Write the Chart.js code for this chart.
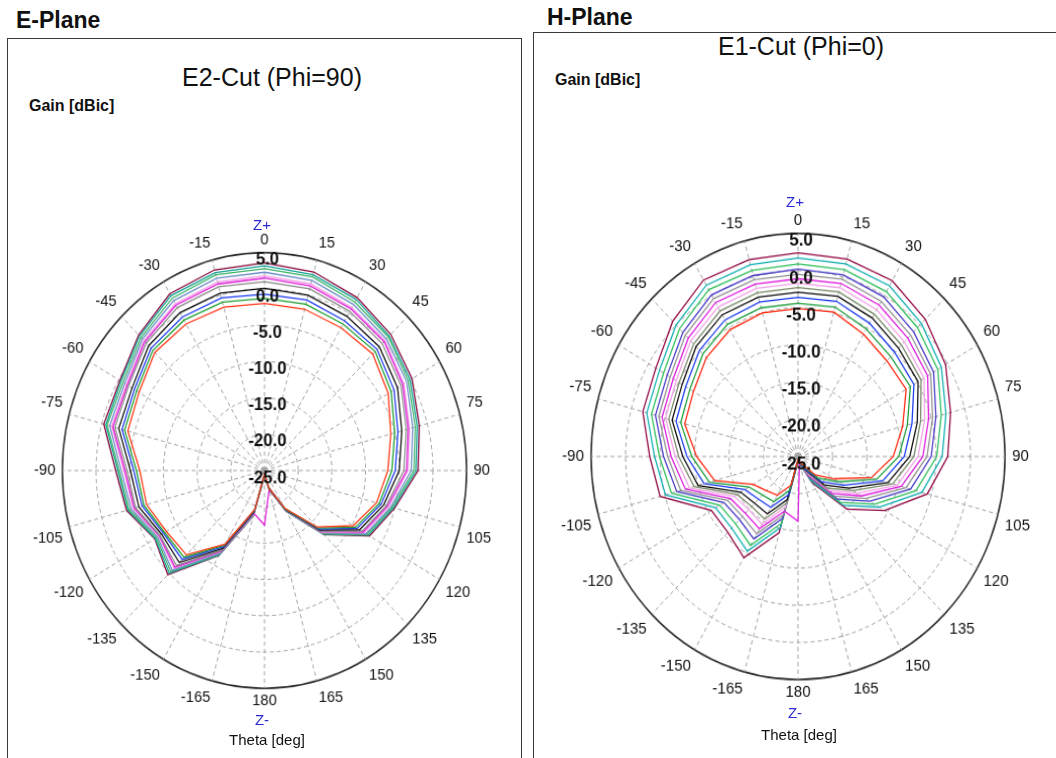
<!DOCTYPE html>
<html><head><meta charset="utf-8">
<script src="https://cdn.jsdelivr.net/npm/chart.js@4.4.1/dist/chart.umd.min.js"></script>
<style>
html,body{margin:0;padding:0;background:#fff;width:1056px;height:758px;overflow:hidden;font-family:"Liberation Sans",Arial,sans-serif;}
.t{position:absolute;white-space:nowrap;line-height:1;color:#111;}
.c{text-align:center;width:240px;}
.box{position:absolute;border:1.5px solid #3a3a3a;box-sizing:border-box;}
canvas{position:absolute;}
.z{color:#2b2bd6;}
</style></head><body>
<div class="box" style="left:7px;top:38px;width:515px;height:740px;"></div>
<div class="box" style="left:533px;top:32px;width:540px;height:740px;"></div>
<div class="t" style="left:16px;top:9px;font-size:23px;font-weight:bold;">E-Plane</div>
<div class="t" style="left:547px;top:6px;font-size:23px;font-weight:bold;">H-Plane</div>
<div class="t c" style="left:152px;top:65px;font-size:25px;">E2-Cut (Phi=90)</div>
<div class="t c" style="left:681px;top:34px;font-size:25px;">E1-Cut (Phi=0)</div>
<div class="t" style="left:29px;top:98px;font-size:16px;font-weight:bold;">Gain [dBic]</div>
<div class="t" style="left:555px;top:72px;font-size:16px;font-weight:bold;">Gain [dBic]</div>
<canvas id="eplane" width="470" height="470" style="width:470px;height:470px;"></canvas>
<canvas id="hplane" width="470" height="470" style="width:470px;height:470px;"></canvas>
<div class="t c z" style="left:142px;top:217px;font-size:15px;">Z+</div>
<div class="t c z" style="left:142px;top:712px;font-size:15px;">Z-</div>
<div class="t c" style="left:147px;top:732px;font-size:15px;">Theta [deg]</div>
<div class="t c z" style="left:675px;top:194px;font-size:15px;">Z+</div>
<div class="t c z" style="left:675px;top:705px;font-size:15px;">Z-</div>
<div class="t c" style="left:679px;top:727px;font-size:15px;">Theta [deg]</div>
<script>
// Theta categories (clockwise from Z+)
const thetaLabels = ['0','15','30','45','60','75','90','105','120','135','150','165','180','-165','-150','-135','-120','-105','-90','-75','-60','-45','-30','-15'];
const radialTicks = [5, 0, -5, -10, -15, -20, -25];

// E-Plane (E2-Cut, Phi=90) gain traces [dBic], inner -> outer
const eGain1  = [-2.0,-2.0,-2.3,-2.3,-3.8,-5.6,-6.7,-7.8,-9.8,-14.0,-19.0,-22.6,-24.5,-19.5,-13.3,-8.6,-8.2,-6.9,-6.5,-4.0,-3.5,-2.0,-1.7,-1.7];
const eGain2  = [-1.3,-1.3,-1.7,-1.8,-3.3,-5.0,-6.1,-7.4,-9.4,-13.8,-18.9,-22.5,-24.4,-19.4,-13.1,-8.1,-7.9,-6.5,-6.0,-3.5,-3.1,-1.6,-1.1,-1.0];
const eGain3  = [-0.7,-0.7,-1.2,-1.4,-2.8,-4.5,-5.6,-7.1,-9.1,-13.6,-18.9,-22.6,-24.4,-19.3,-12.9,-7.7,-7.7,-6.2,-5.6,-3.1,-2.7,-1.2,-0.6,-0.4];
const eGain4  = [0.1,0.0,-0.5,-0.9,-2.2,-3.9,-5.0,-6.7,-8.7,-13.4,-18.8,-22.4,-24.4,-19.1,-12.6,-7.1,-7.4,-5.7,-5.1,-2.6,-2.3,-0.7,0.1,0.3];
const eGain5  = [1.0,0.9,0.3,-0.3,-1.6,-3.2,-4.3,-6.3,-8.3,-13.2,-18.7,-22.5,-24.4,-19.0,-12.3,-6.5,-7.1,-5.2,-4.6,-2.0,-1.7,-0.2,0.9,1.2];
const eGain6  = [1.5,1.3,0.7,0.1,-1.3,-2.9,-3.9,-6.1,-8.1,-13.1,-18.7,-22.3,-17.5,-18.9,-12.2,-6.2,-7.0,-5.0,-4.3,-1.7,-1.5,0.1,1.3,1.6];
const eGain7  = [1.8,1.6,0.9,0.3,-1.1,-2.7,-3.7,-5.9,-7.9,-13.0,-18.7,-22.4,-24.3,-18.8,-12.1,-6.0,-6.9,-4.8,-4.1,-1.5,-1.3,0.3,1.5,1.9];
const eGain8  = [2.3,2.1,1.4,0.6,-0.6,-2.2,-3.2,-5.6,-7.6,-12.9,-18.6,-22.4,-24.3,-18.7,-11.9,-5.6,-6.7,-4.5,-3.7,-1.2,-1.0,0.6,2.0,2.4];
const eGain9  = [2.8,2.6,1.8,1.0,-0.3,-1.8,-2.8,-5.4,-7.4,-12.7,-18.6,-22.5,-24.4,-18.6,-11.8,-5.3,-6.5,-4.2,-3.4,-0.8,-0.7,0.9,2.4,2.9];
const eGain10 = [3.2,2.9,2.2,1.2,0.0,-1.5,-2.5,-5.2,-7.2,-12.6,-18.5,-22.4,-24.3,-18.6,-11.6,-5.0,-6.3,-4.0,-3.2,-0.6,-0.4,1.2,2.8,3.2];
const eGain11 = [3.6,3.3,2.5,1.5,0.3,-1.2,-2.2,-5.0,-7.0,-12.5,-18.5,-22.3,-24.3,-18.5,-11.5,-4.7,-6.2,-3.8,-2.9,-0.3,-0.2,1.4,3.1,3.6];

// H-Plane (E1-Cut, Phi=0) gain traces [dBic], inner -> outer
const hGain1  = [-5.1,-4.9,-6.0,-6.8,-6.9,-9.3,-11.2,-14.0,-19.0,-21.5,-23.8,-24.4,-24.6,-21.0,-19.0,-18.5,-17.5,-12.5,-10.3,-8.0,-7.5,-6.2,-5.3,-5.0];
const hGain2  = [-4.4,-4.2,-5.2,-6.0,-6.2,-8.6,-10.4,-13.2,-18.2,-20.9,-23.5,-24.3,-24.5,-20.3,-18.0,-17.7,-16.8,-11.7,-9.6,-7.4,-6.9,-5.5,-4.5,-4.3];
const hGain3  = [-3.6,-3.4,-4.3,-5.2,-5.6,-7.9,-9.6,-12.3,-17.3,-20.2,-23.2,-24.4,-24.5,-19.7,-17.1,-16.9,-16.1,-10.9,-8.9,-6.7,-6.2,-4.8,-3.8,-3.5];
const hGain4  = [-2.9,-2.7,-3.5,-4.4,-4.9,-7.1,-8.8,-11.5,-16.5,-19.6,-23.0,-24.3,-24.5,-19.0,-16.1,-16.1,-15.4,-10.0,-8.3,-6.1,-5.6,-4.1,-3.0,-2.8];
const hGain5  = [-2.3,-2.1,-2.9,-3.8,-4.4,-6.6,-8.2,-10.8,-15.8,-19.0,-22.7,-24.2,-24.5,-18.5,-15.3,-15.5,-14.8,-9.4,-7.7,-5.6,-5.1,-3.6,-2.4,-2.2];
const hGain6  = [-1.7,-1.5,-2.2,-3.2,-3.9,-6.0,-7.6,-10.1,-15.1,-18.5,-22.5,-24.3,-24.5,-18.0,-14.5,-14.9,-14.3,-8.7,-7.2,-5.1,-4.6,-3.0,-1.8,-1.6];
const hGain7  = [-1.1,-0.9,-1.5,-2.5,-3.3,-5.4,-6.9,-9.5,-14.4,-18.0,-22.3,-24.2,-16.3,-17.4,-13.8,-14.2,-13.7,-8.1,-6.6,-4.6,-4.1,-2.5,-1.1,-1.0];
const hGain8  = [-0.5,-0.3,-0.9,-1.9,-2.8,-4.8,-6.3,-8.8,-13.7,-17.5,-22.0,-24.2,-24.5,-16.9,-13.0,-13.6,-13.2,-7.4,-6.1,-4.1,-3.6,-1.9,-0.5,-0.4];
const hGain9  = [0.2,0.3,-0.2,-1.3,-2.3,-4.3,-5.7,-8.1,-13.0,-16.9,-21.8,-24.1,-24.4,-16.4,-12.2,-13.0,-12.6,-6.8,-5.5,-3.6,-3.1,-1.4,0.1,0.2];
const hGain10 = [0.9,1.0,0.6,-0.5,-1.6,-3.5,-4.9,-7.3,-12.2,-16.3,-21.6,-24.1,-24.4,-15.7,-11.2,-12.2,-11.9,-6.0,-4.9,-3.0,-2.5,-0.7,0.9,0.9];
const hGain11 = [1.7,1.8,1.5,0.3,-1.0,-2.8,-4.1,-6.4,-11.4,-15.7,-21.3,-24.0,-24.4,-15.1,-10.3,-11.4,-11.2,-5.1,-4.2,-2.3,-1.8,0.0,1.6,1.7];
const hGain12 = [2.4,2.5,2.3,1.1,-0.3,-2.1,-3.3,-5.6,-10.5,-15.0,-21.0,-24.0,-24.4,-14.4,-9.3,-10.6,-10.5,-4.3,-3.5,-1.7,-1.2,0.7,2.4,2.4];

const eColors = ['#ff3a1a','#22a033','#1f3cf0','#111111','#8c8c8c','#e01fd8','#f39ce6','#6f8fc8','#3fb56a','#1aa39a','#8a0b3e'];
const hColors = ['#ff2a10','#20a040','#2040f0','#111111','#7d8d6d','#f4a6e8','#e020e0','#959595','#4a3cc8','#35c060','#18b0b5','#930a45'];

const eTraces = [eGain1,eGain2,eGain3,eGain4,eGain5,eGain6,eGain7,eGain8,eGain9,eGain10,eGain11];
const hTraces = [hGain1,hGain2,hGain3,hGain4,hGain5,hGain6,hGain7,hGain8,hGain9,hGain10,hGain11,hGain12];

const tickLabelPlugin = {
  id: 'tickLabels',
  afterDatasetsDraw(chart) {
    const s = chart.scales.r, ctx = chart.ctx;
    ctx.save();
    ctx.font = 'bold 17px "Liberation Sans", Arial, sans-serif';
    ctx.fillStyle = '#111';
    ctx.textAlign = 'center';
    ctx.textBaseline = 'middle';
    radialTicks.forEach(v => {
      const p = s.getPointPosition(0, s.getDistanceFromCenterForValue(v));
      ctx.fillText(v.toFixed(1), p.x + 3, p.y + 7);
    });
    ctx.restore();
  }
};

function makePolar(id, traces, colors, geom) {
  const canvas = document.getElementById(id);
  const chart = new Chart(canvas, {
    type: 'radar',
    data: {
      labels: thetaLabels,
      datasets: traces.map((d, i) => ({
        label: 'Trace ' + (i + 1), data: d, borderColor: colors[i],
        backgroundColor: 'transparent', fill: false, borderWidth: 1.3,
        pointRadius: 0, tension: 0
      }))
    },
    options: {
      responsive: false, animation: false, devicePixelRatio: 1,
      plugins: { legend: { display: false }, tooltip: { enabled: false } },
      scales: {
        r: {
          min: -25, max: 5, startAngle: 0,
          ticks: { display: false, stepSize: 5 },
          grid: {
            circular: true,
            color: c => (c.tick && c.tick.value === 5) ? '#2a2a2a' : '#a3a3a3',
            lineWidth: c => (c.tick && c.tick.value === 5) ? 1.5 : 1
          },
          border: { dash: c => (c.tick && c.tick.value === 5) ? [] : [4, 3] },
          angleLines: { color: '#a3a3a3', borderDash: [4, 3], lineWidth: 1 },
          pointLabels: {
            color: '#111',
            padding: c => (c.index === 0 || c.index === 12) ? 3 : 7,
            font: { family: '"Liberation Sans", Arial, sans-serif', size: 15 }
          }
        }
      }
    },
    plugins: [tickLabelPlugin]
  });
  const s = chart.scales.r;
  const kx = geom.rx / s.drawingArea, ky = geom.ry / s.drawingArea;
  canvas.style.width = (chart.width * kx) + 'px';
  canvas.style.height = (chart.height * ky) + 'px';
  canvas.style.left = (geom.cx - s.xCenter * kx) + 'px';
  canvas.style.top = (geom.cy - s.yCenter * ky) + 'px';
  return chart;
}

makePolar('eplane', eTraces, eColors, { cx: 264.5, cy: 470.5, rx: 202.5, ry: 217.5 });
makePolar('hplane', hTraces, hColors, { cx: 798, cy: 456.5, rx: 207, ry: 223.5 });
</script>
</body></html>
